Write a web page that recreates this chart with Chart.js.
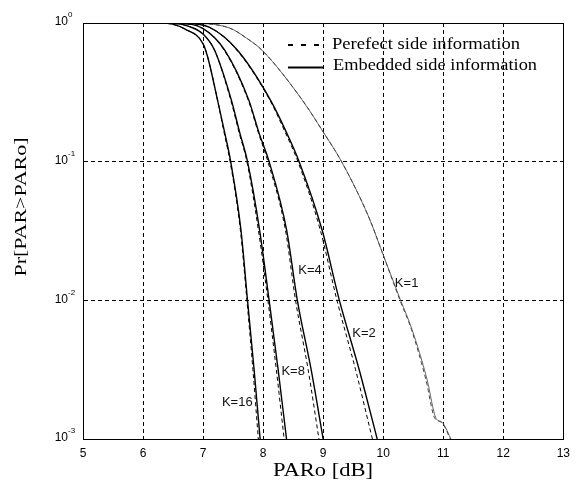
<!DOCTYPE html>
<html><head><meta charset="utf-8">
<script src="https://cdn.jsdelivr.net/npm/chart.js@4.4.1/dist/chart.umd.min.js"></script>
<style>html,body{margin:0;padding:0;background:#fff;}#wrap{width:577px;height:491px;}</style>
</head><body><div id="wrap"><canvas id="c" width="577" height="491"></canvas></div>
<script>
// ---- tick labels ----
const xTicks = [5, 6, 7, 8, 9, 10, 11, 12, 13];
const yTicks = [1, 0.1, 0.01, 0.001];
const yTickExp = ['0', '-1', '-2', '-3'];

// ---- series: probability levels and PARo values (dB) ----
const probK16 = [1, 1, 0.993, 0.902, 0.708, 0.562, 0.279, 0.162, 0.1, 0.0324, 0.01, 0.00316, 0.001];
const parK16Emb = [5, 6.0, 6.4, 6.7, 7.0, 7.08, 7.24, 7.36, 7.46, 7.63, 7.74, 7.85, 7.95];
const parK16Perf = [5, 6.0, 6.4, 6.7, 7.0, 7.08, 7.24, 7.35, 7.45, 7.62, 7.73, 7.83, 7.92];

const probK8 = [1, 1, 0.993, 0.933, 0.832, 0.638, 0.279, 0.162, 0.1, 0.0324, 0.01, 0.00316, 0.001];
const parK8Emb = [5, 6.0, 6.5, 6.8, 7.0, 7.19, 7.47, 7.61, 7.74, 7.94, 8.10, 8.25, 8.39];
const parK8Perf = [5, 6.0, 6.5, 6.8, 7.0, 7.19, 7.46, 7.60, 7.73, 7.92, 8.08, 8.22, 8.35];

const probK4 = [1, 1, 0.993, 0.912, 0.638, 0.279, 0.162, 0.1, 0.0324, 0.01, 0.00316, 0.001];
const parK4Emb = [5, 6.0, 6.6, 7.0, 7.36, 7.76, 7.93, 8.10, 8.39, 8.57, 8.80, 9.0];
const parK4Perf = [5, 6.0, 6.6, 7.0, 7.35, 7.75, 7.92, 8.08, 8.37, 8.54, 8.75, 8.93];

const probK2 = [1, 1, 0.993, 0.933, 0.638, 0.279, 0.162, 0.1, 0.0324, 0.01, 0.00316, 0.001];
const parK2Emb = [5, 6.0, 6.7, 7.1, 7.57, 8.12, 8.39, 8.60, 8.98, 9.27, 9.60, 9.90];
const parK2Perf = [5, 6.0, 6.7, 7.1, 7.56, 8.11, 8.37, 8.58, 8.95, 9.23, 9.54, 9.82];

const probK1 = [1, 1, 0.993, 0.920, 0.780, 0.631, 0.279, 0.164, 0.0977, 0.0398, 0.0224, 0.01, 0.00617, 0.00269, 0.00141, 0.00132, 0.000977];
const parK1Emb = [5, 6.0, 6.9, 7.44, 7.72, 7.99, 8.65, 9.0, 9.32, 9.76, 9.98, 10.29, 10.48, 10.73, 10.88, 10.98, 11.14];
const parK1Perf = [5, 6.0, 6.9, 7.44, 7.72, 7.99, 8.65, 9.0, 9.32, 9.76, 9.98, 10.28, 10.47, 10.71, 10.86, 10.97, 11.13];

// curve labels anchored in data coordinates
const curveLabels = [
  {text: 'K=16', x: 7.57, y: 0.00185},
  {text: 'K=8', x: 8.50, y: 0.00309},
  {text: 'K=4', x: 8.78, y: 0.0163},
  {text: 'K=2', x: 9.68, y: 0.00581},
  {text: 'K=1', x: 10.39, y: 0.0133}
];
const legendTexts = ['Perefect side information', 'Embedded side information'];
const xTitle = 'PARo [dB]';
const yTitle = 'Pr[PAR>PARo]';

function pts(xs, ys) { return xs.map((x, i) => ({x: x, y: ys[i]})); }

const series = [
  {p: probK16, e: parK16Emb, f: parK16Perf, thin: false},
  {p: probK8, e: parK8Emb, f: parK8Perf, thin: false},
  {p: probK4, e: parK4Emb, f: parK4Perf, thin: false},
  {p: probK2, e: parK2Emb, f: parK2Perf, thin: false},
  {p: probK1, e: parK1Emb, f: parK1Perf, thin: true}
];
const datasets = [];
series.forEach(s => {
  datasets.push({data: pts(s.f, s.p), borderColor: s.thin ? '#444' : '#000', borderWidth: 1,
    borderDash: [4, 3], pointRadius: 0, fill: false, cubicInterpolationMode: 'monotone'});
  datasets.push({data: pts(s.e, s.p), borderColor: s.thin ? '#555' : '#000', borderWidth: s.thin ? 0.9 : 1.4,
    pointRadius: 0, fill: false, cubicInterpolationMode: 'monotone'});
});

function stretchText(ctx, text, x, y, font, width, align) {
  ctx.save();
  ctx.font = font;
  const w = ctx.measureText(text).width;
  const s = width ? width / w : 1;
  ctx.translate(x, y);
  ctx.scale(s, 1);
  ctx.textAlign = align || 'left';
  ctx.fillText(text, 0, 0);
  ctx.restore();
}

const decor = {
  id: 'decor',
  afterDraw(chart) {
    const ctx = chart.ctx, a = chart.chartArea;
    const xs = chart.scales.x, ys = chart.scales.y;
    ctx.save();
    // frame
    ctx.strokeStyle = '#000'; ctx.lineWidth = 1; ctx.setLineDash([]);
    ctx.strokeRect(Math.round(a.left) + 0.5, Math.round(a.top) + 0.5, Math.round(a.right - a.left), Math.round(a.bottom - a.top));
    ctx.fillStyle = '#000';
    // y tick labels 10^n
    ctx.textBaseline = 'middle';
    yTicks.forEach((v, i) => {
      const py = ys.getPixelForValue(v);
      ctx.font = '12px "Liberation Sans", Arial, sans-serif';
      ctx.textAlign = 'right';
      ctx.fillText('10', 68, py - 1);
      ctx.font = '8px "Liberation Sans", Arial, sans-serif';
      ctx.textAlign = 'left';
      ctx.fillText(yTickExp[i], 68, py - 8);
    });
    // axis titles
    ctx.textBaseline = 'middle';
    stretchText(ctx, xTitle, 323, 471, '18px "Liberation Serif", "Times New Roman", serif', 100, 'center');
    ctx.save();
    ctx.translate(22, 207);
    ctx.rotate(-Math.PI / 2);
    stretchText(ctx, yTitle, 0, 0, '17px "Liberation Serif", "Times New Roman", serif', 139, 'center');
    ctx.restore();
    // legend
    ctx.textBaseline = 'alphabetic';
    stretchText(ctx, legendTexts[0], 332, 49, '17px "Liberation Serif", "Times New Roman", serif', 188, 'left');
    stretchText(ctx, legendTexts[1], 333, 70, '17px "Liberation Serif", "Times New Roman", serif', 204, 'left');
    ctx.lineWidth = 2;
    ctx.setLineDash([5, 8]);
    ctx.beginPath(); ctx.moveTo(288, 45); ctx.lineTo(323, 45); ctx.stroke();
    ctx.setLineDash([]);
    ctx.beginPath(); ctx.moveTo(288, 67.5); ctx.lineTo(323, 67.5); ctx.stroke();
    // curve labels
    ctx.font = '13px "Liberation Sans", Arial, sans-serif';
    ctx.textAlign = 'center'; ctx.textBaseline = 'middle';
    ctx.fillStyle = '#111';
    curveLabels.forEach(l => {
      ctx.fillText(l.text, xs.getPixelForValue(l.x), ys.getPixelForValue(l.y));
    });
    ctx.restore();
  }
};

new Chart(document.getElementById('c'), {
  type: 'line',
  data: {datasets: datasets},
  options: {
    responsive: false, animation: false, devicePixelRatio: 1,
    layout: {padding: {left: 0, right: 12, top: 23, bottom: 0}},
    plugins: {legend: {display: false}, tooltip: {enabled: false}},
    scales: {
      x: {
        type: 'linear', min: 5, max: 13,
        afterBuildTicks: s => { s.ticks = xTicks.map(v => ({value: v})); },
        afterFit: s => { s.height = 52; },
        ticks: {color: '#000', padding: 7, font: {family: '"Liberation Sans", Arial, sans-serif', size: 12}, maxRotation: 0},
        grid: {color: '#000', lineWidth: 1, drawTicks: false},
        border: {display: true, color: '#000', width: 1, dash: [4, 3]}
      },
      y: {
        type: 'logarithmic', min: 0.001, max: 1,
        afterBuildTicks: s => { s.ticks = yTicks.map(v => ({value: v})); },
        afterFit: s => { s.width = 83; },
        ticks: {display: false},
        grid: {color: '#000', lineWidth: 1, drawTicks: false},
        border: {display: true, color: '#000', width: 1, dash: [4, 3]}
      }
    }
  },
  plugins: [decor]
});
</script></body></html>
